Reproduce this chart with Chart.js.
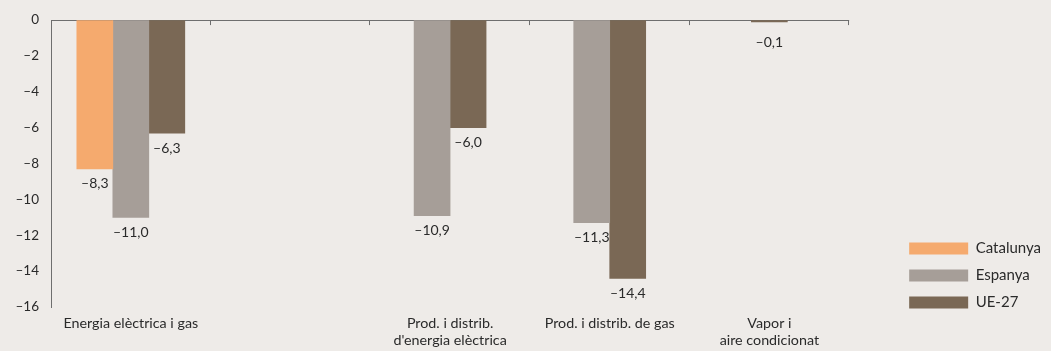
<!DOCTYPE html>
<html><head><meta charset="utf-8">
<script src="https://cdn.jsdelivr.net/npm/chart.js@4/dist/chart.umd.min.js"></script>
<style>
html,body{margin:0;padding:0;background:#eeebe8;}
#wrap{width:1051px;height:351px;position:relative;}
canvas{display:block;}
</style></head><body>
<div id="wrap"><canvas id="c" width="1051" height="351"></canvas></div>
<script>
const categories = [['Energia elèctrica i gas'], [''], ['Prod. i distrib.', "d'energia elèctrica"], ['Prod. i distrib. de gas'], ['Vapor i', 'aire condicionat']];
const seriesNames = ['Catalunya', 'Espanya', 'UE-27'];
const catalunya = [-8.3, null, null, null, null];
const espanya = [-11.0, null, -10.9, -11.3, null];
const ue27 = [-6.3, null, -6.0, -14.4, -0.1];
const yMin = -16, yMax = 0, yStep = 2;

const FONT = 'Lato, "Liberation Sans", sans-serif';
const TXT = '#2a2a2a';
const AXIS = '#6e6e6e';
const fmt = v => (v < 0 ? '\u2013' : '') + Math.abs(v).toFixed(1).replace('.', ',');

const valueLabels = {
  id: 'valueLabels',
  afterDatasetsDraw(chart) {
    const ctx = chart.ctx;
    ctx.save();
    ctx.font = '14px ' + FONT;
    ctx.fillStyle = TXT;
    ctx.textAlign = 'center';
    ctx.textBaseline = 'middle';
    chart.data.datasets.forEach((ds, i) => {
      const meta = chart.getDatasetMeta(i);
      meta.data.forEach((bar, j) => {
        const v = ds.data[j];
        if (v === null || v === undefined) return;
        const y = Math.max(bar.y + 15, chart.chartArea.top + 22);
        ctx.fillText(fmt(v), bar.x, y);
      });
    });
    ctx.restore();
  }
};

const zeroTicks = {
  id: 'zeroTicks',
  afterDraw(chart) {
    const xs = chart.scales.x;
    const top = chart.chartArea.top;
    const ctx = chart.ctx;
    ctx.save();
    ctx.strokeStyle = AXIS;
    ctx.lineWidth = 1;
    for (let i = 1; i <= categories.length; i++) {
      const x = Math.round(xs.getPixelForValue(i - 0.5)) - 0.5;
      ctx.beginPath();
      ctx.moveTo(x, top);
      ctx.lineTo(x, top + 5);
      ctx.stroke();
    }
    ctx.restore();
  }
};

// lift the legend block so it ends a little below the plot bottom
const legendPlace = {
  id: 'legendPlace',
  afterLayout(chart) {
    if (chart.legend) chart.legend.bottom = chart.chartArea.bottom + 15;
  }
};

const colors = ['#f5aa6e', '#a69e98', '#7a6855'];
const seriesData = [catalunya, espanya, ue27];

new Chart(document.getElementById('c'), {
  type: 'bar',
  data: {
    labels: categories,
    datasets: seriesNames.map((n, i) => ({
      label: n,
      data: seriesData[i],
      backgroundColor: colors[i],
      borderWidth: 0,
      barThickness: 36,
      skipNull: true
    }))
  },
  options: {
    responsive: false,
    animation: false,
    devicePixelRatio: 1,
    layout: { padding: { top: 19, bottom: 0, left: 0, right: 0 } },
    plugins: {
      legend: {
        position: 'right',
        align: 'end',
        labels: {
          boxWidth: 59,
          boxHeight: 12,
          padding: 12,
          color: TXT,
          font: { family: FONT, size: 15 }
        }
      },
      tooltip: { enabled: false }
    },
    scales: {
      x: {
        grid: { display: false, drawTicks: false },
        border: { display: false },
        ticks: {
          color: TXT,
          font: { family: FONT, size: 14.3, lineHeight: 1.2 },
          padding: 8,
          autoSkip: false,
          maxRotation: 0
        },
        afterFit(s) { s.height = 44; }
      },
      y: {
        min: yMin, max: yMax,
        ticks: {
          stepSize: yStep,
          padding: 12,
          color: TXT,
          font: { family: FONT, size: 13.5 },
          callback: v => (v < 0 ? '\u2013' + Math.abs(v) : String(v))
        },
        grid: {
          drawTicks: false,
          color: c => (c.tick && c.tick.value === 0 ? AXIS : 'rgba(0,0,0,0)')
        },
        border: { display: true, color: AXIS },
        afterFit(s) { s.width = 51; }
      },
      y2: {
        position: 'right',
        display: true,
        grid: { display: false },
        border: { display: false },
        ticks: { display: false },
        afterFit(s) { s.width = 48; }
      }
    }
  },
  plugins: [valueLabels, zeroTicks, legendPlace]
});
</script>
</body></html>
